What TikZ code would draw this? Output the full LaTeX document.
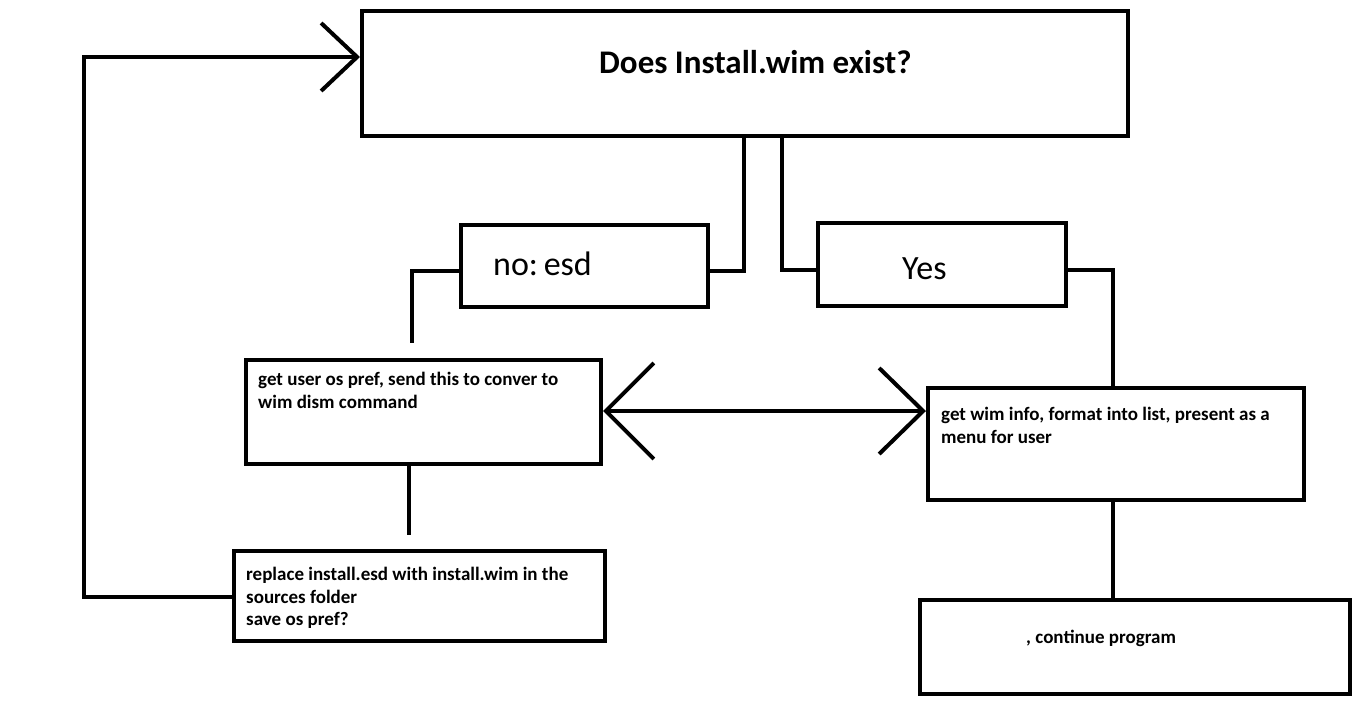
\documentclass[tikz,border=0pt]{standalone}
\usepackage{fontspec}
\setmainfont{Carlito}
\usetikzlibrary{arrows.meta}
\begin{document}
\begin{tikzpicture}[x=1pt,y=-1pt,
  box/.style={draw=black, line width=4pt, fill=white, inner sep=0pt},
  conn/.style={draw=black, line width=4pt},
  small/.style={font=\bfseries\fontsize{19}{22.5}\selectfont, inner sep=0pt, align=left},
  big/.style={font=\fontsize{34}{40}\selectfont, inner sep=0pt}
]
\useasboundingbox[fill=white] (0,0) rectangle (1366,704);

% boxes
\node[box, minimum width=766pt, minimum height=125pt] (top) at (745,73.5) {};
\node[box, minimum width=247pt, minimum height=82pt] (noesd) at (584.5,266) {};
\node[box, minimum width=248pt, minimum height=83pt] (yes) at (942,264.5) {};
\node[box, minimum width=355pt, minimum height=104pt] (userpref) at (423.5,412) {};
\node[box, minimum width=376pt, minimum height=112pt] (wiminfo) at (1116,444) {};
\node[box, minimum width=430pt, minimum height=94pt] (cont) at (1135,647) {};
\node[box, minimum width=371pt, minimum height=90pt] (replace) at (419.5,596) {};

% texts
\node[big, font=\bfseries\fontsize{33}{40}\selectfont, anchor=base west] (ttop) at (599,73) {Does Install.wim exist?};
\node[big, anchor=base west] (tno) at (493,275) {no:\kern-2pt\ esd};
\node[big, anchor=base west] (tyes) at (902,279) {Yes};
\node[small, anchor=north west] (tuser) at (258,372) {get user os pref, send this to conver to\\wim dism command};
\node[small, anchor=north west] (twim) at (941,407) {get wim info, format into list, present as a\\menu for user};
\node[small, anchor=north west] (trep) at (246,567) {replace install.esd with install.wim in the\\sources folder\\save os pref?};
\node[small, anchor=base west] (tcont) at (1026,643) {, continue program};

% free ends
\coordinate (nofree) at (412,343);
\coordinate (userfree) at (409,535);

% connectors
\draw[conn] (top.south -| 744,0) -- (744,271) -- (noesd.east |- 0,271);
\draw[conn] (noesd.west |- 0,271) -| (nofree);
\draw[conn] (top.south -| 782,0) -- (782,270) -- (yes.west |- 0,270);
\draw[conn] (yes.east |- 0,270) -| (wiminfo.north -| 1113,0);
\draw[conn] (wiminfo.south -| 1113,0) -- (cont.north -| 1113,0);
\draw[conn] (userpref.south -| 409,0) -- (userfree);
\draw[line width=3.5pt, {Straight Barb[length=48pt, width=96pt, line width=4pt]}-{Straight Barb[length=44pt, width=86pt, line width=4pt]}] (userpref.east |- 0,411) -- (wiminfo.west |- 0,411);
\draw[conn, -{Straight Barb[length=36pt, width=68pt, line width=4pt]}] (replace.west |- 0,597) -- (84,597) -- (84,57) -- (top.west |- 0,57);
\end{tikzpicture}
\end{document}
